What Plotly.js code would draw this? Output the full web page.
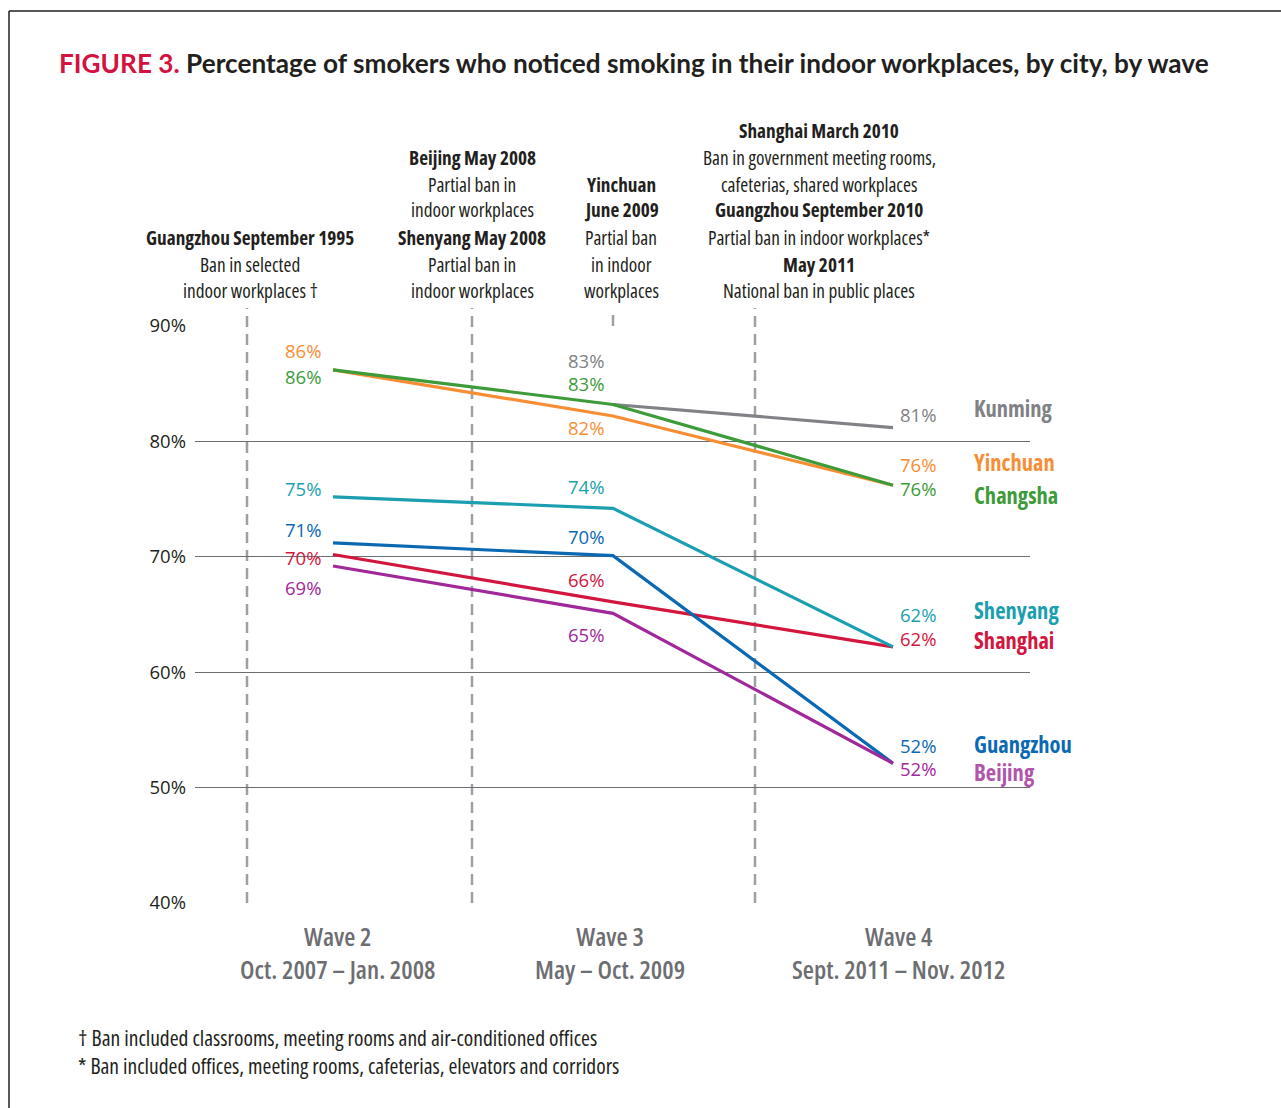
<!DOCTYPE html>
<html>
<head>
<meta charset="utf-8">
<script src="https://cdn.plot.ly/plotly-3.0.1.min.js"></script>
<style>
html,body{margin:0;padding:0;background:#fff;}
#chart{width:1281px;height:1108px;}
/* condensed face for the "narrow" family (also applies to Plotly's text-measuring node) */
text[style*="Noto Sans"]{font-stretch:75%;}
</style>
</head>
<body>
<div id="chart"></div>
<script>
// ---------------- data ----------------
const waves = [0, 1, 2];
const waveLabels = ['Wave 2<br>Oct. 2007 – Jan. 2008', 'Wave 3<br>May – Oct. 2009', 'Wave 4<br>Sept. 2011 – Nov. 2012'];
const cities = ['Kunming', 'Yinchuan', 'Changsha', 'Shanghai', 'Shenyang', 'Guangzhou', 'Beijing'];
const kunming   = [null, 83.2, 81.2];
const yinchuan  = [86.2, 82.2, 76.2];
const changsha  = [86.2, 83.2, 76.2];
const shanghai  = [70.2, 66.1, 62.2];
const shenyang  = [75.2, 74.2, 62.2];
const guangzhou = [71.2, 70.1, 52.1];
const beijing   = [69.2, 65.1, 52.1];
const yTicks = [40, 50, 60, 70, 80, 90];
const yTickText = ['40%', '50%', '60%', '70%', '80%', '90%'];
const footnotes = ['† Ban included classrooms, meeting rooms and air-conditioned offices',
                   '* Ban included offices, meeting rooms, cafeterias, elevators and corridors'];

// ---------------- styles / layout helpers ----------------
const series = [kunming, yinchuan, changsha, shanghai, shenyang, guangzhou, beijing];
const lineColors = ['#808285', '#F78E34', '#3E9B3A', '#D2163E', '#1B9FB0', '#0B69B4', '#A0289A'];
const nameColors = ['#808285', '#F78E34', '#3E9B3A', '#D2163E', '#1B9FB0', '#0B69B4', '#B155AB'];
// label y-shifts per city per wave (px)
const labelShift = [
  [0, 44, 13],
  [19, -11, 21],
  [-7, 21, -3],
  [-3, 22, 8],
  [8, 22, 32],
  [13, 19, 18],
  [-21, -21, -5]
];
const waveXShift = [-30, -27, 25];
const nameY = [408, 462, 495, 640, 610, 744, 772];
const waveLabelXShift = [5, -3, 5];

const L = 195, R = 1030, T = 326, B = 903;
const PX = x => (x - L) / (R - L);
const PY = y => (B - y) / (B - T);

const narrow = '"Open Sans", "Noto Sans", sans-serif';
const regular = '"Open Sans", sans-serif';

const traces = series.map((s, i) => ({
  x: waves, y: s, type: 'scatter', mode: 'lines', name: cities[i],
  line: {color: lineColors[i], width: 3.2}, connectgaps: false, hoverinfo: 'skip'
}));

const annotations = [];
// data value labels
series.forEach((s, i) => {
  s.forEach((v, w) => {
    if (v === null) return;
    annotations.push({x: waves[w], y: v, xref: 'x', yref: 'y', showarrow: false,
      text: Math.round(v) + '%', xanchor: 'center', yanchor: 'middle',
      xshift: waveXShift[w], yshift: labelShift[i][w],
      font: {family: regular, size: 18.5, color: lineColors[i]}});
  });
});
// city names
cities.forEach((c, i) => {
  annotations.push({x: PX(972), y: PY(nameY[i]), xref: 'paper', yref: 'paper', showarrow: false,
    text: '<b>' + c + '</b>', xanchor: 'left', yanchor: 'middle',
    font: {family: narrow, size: 22.5, color: nameColors[i]}});
});
// wave (x category) labels
waveLabels.forEach((wl, w) => {
  annotations.push({x: waves[w], y: PY(952), xref: 'x', yref: 'paper', showarrow: false,
    text: wl, xanchor: 'center', yanchor: 'middle', xshift: waveLabelXShift[w],
    font: {family: narrow, size: 25.5, color: '#6D6E71', weight: 600}});
});
// top policy notes: [text, xcenter, ycenter, bold]
const notes = [
  ['Guangzhou September 1995', 250, 237, true],
  ['Ban in selected', 250, 264, false],
  ['indoor workplaces †', 250, 290, false],
  ['Beijing May 2008', 472, 157, true],
  ['Partial ban in', 472, 184, false],
  ['indoor workplaces', 472, 210, false],
  ['Shenyang May 2008', 472, 237, true],
  ['Partial ban in', 472, 264, false],
  ['indoor workplaces', 472, 290, false],
  ['Yinchuan', 621, 184, true],
  ['June 2009', 621, 210, true],
  ['Partial ban', 621, 237, false],
  ['in indoor', 621, 264, false],
  ['workplaces', 621, 290, false],
  ['Shanghai March 2010', 819, 130, true],
  ['Ban in government meeting rooms,', 819, 157, false],
  ['cafeterias, shared workplaces', 819, 184, false],
  ['Guangzhou September 2010', 819, 210, true],
  ['Partial ban in indoor workplaces*', 819, 237, false],
  ['May 2011', 819, 264, true],
  ['National ban in public places', 819, 290, false]
];
notes.forEach(n => {
  annotations.push({x: PX(n[1]), y: PY(n[2]), xref: 'paper', yref: 'paper', showarrow: false,
    text: n[3] ? '<b>' + n[0] + '</b>' : n[0], xanchor: 'center', yanchor: 'middle',
    font: {family: narrow, size: 19.3, color: '#231F20'}});
});
// title
annotations.push({x: PX(57), y: PY(63), xref: 'paper', yref: 'paper', showarrow: false,
  xanchor: 'left', yanchor: 'middle',
  text: '<span style="color:#D3123F">FIGURE 3.</span> Percentage of smokers who noticed smoking in their indoor workplaces, by city, by wave',
  font: {family: 'Lato, "Open Sans", sans-serif', size: 26.2, color: '#231F20', weight: 700}});
// footnotes (one block)
annotations.push({x: PX(76), y: PY(1051), xref: 'paper', yref: 'paper', showarrow: false,
  xanchor: 'left', yanchor: 'middle', align: 'left', text: footnotes.join('<br>'),
  font: {family: narrow, size: 21.5, color: '#231F20'}});

// dashed policy lines
const toX = px => (px - 333) / 280;
const shapes = [];
[247, 472, 755].forEach(px => shapes.push({type: 'line', xref: 'x', yref: 'paper',
  x0: toX(px), x1: toX(px), y0: 0, y1: PY(308), layer: 'below',
  line: {color: '#9D9FA2', width: 2.5, dash: '11px,7px'}}));
shapes.push({type: 'line', xref: 'x', yref: 'paper', x0: 1, x1: 1, y0: PY(326), y1: PY(308),
  layer: 'below', line: {color: '#9D9FA2', width: 2.5, dash: '11px,7px'}});
// frame
shapes.push({type: 'line', xref: 'paper', yref: 'paper', x0: PX(9), x1: PX(1290), y0: PY(11), y1: PY(11),
  line: {color: '#231F20', width: 1.5}});
shapes.push({type: 'line', xref: 'paper', yref: 'paper', x0: PX(9), x1: PX(9), y0: PY(11), y1: PY(1120),
  line: {color: '#231F20', width: 1.5}});

const layout = {
  width: 1281, height: 1108,
  margin: {l: L, r: 1281 - R, t: T, b: 1108 - B, pad: 0},
  paper_bgcolor: '#fff', plot_bgcolor: '#fff',
  showlegend: false,
  xaxis: {range: [toX(L), toX(R)], tickvals: waves, showticklabels: false, showgrid: false,
    zeroline: false, showline: false, ticks: ''},
  yaxis: {range: [40, 90], tickvals: yTicks, ticktext: yTickText, showgrid: true,
    gridcolor: '#6D6E71', gridwidth: 1.3, zeroline: false, showline: false, ticks: '',
    ticklabelstandoff: 8, tickfont: {family: regular, size: 18.5, color: '#231F20'}},
  annotations: annotations,
  shapes: shapes
};

Plotly.newPlot('chart', traces, layout, {displayModeBar: false, staticPlot: true});
</script>
</body>
</html>
